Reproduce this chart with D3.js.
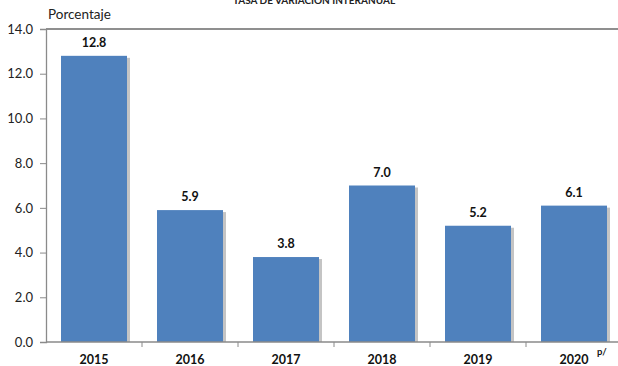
<!DOCTYPE html>
<html>
<head>
<meta charset="utf-8">
<script src="https://cdn.jsdelivr.net/npm/d3@7"></script>
<style>
html,body{margin:0;padding:0;background:#fff;}
svg{display:block;font-family:Lato,"Open Sans",sans-serif;}
</style>
</head>
<body>
<svg id="chart" width="618" height="366"></svg>
<script>
const categories = ["2015","2016","2017","2018","2019","2020"];
const values = [12.8, 5.9, 3.8, 7.0, 5.2, 6.1];
const yTicks = [0, 2, 4, 6, 8, 10, 12, 14];
const title = "TASA DE VARIACIÓN INTERANUAL";
const yLabel = "Porcentaje";
const lastSuffix = "p/";

(function () {
const svg = d3.select("#chart");
const pLeft = 46, pRight = 622, pTop = 29, pBottom = 342;

const x = d3.scaleBand().domain(categories).range([pLeft, pRight]).paddingInner(0.3125).paddingOuter(0.15625);
const y = d3.scaleLinear().domain([0, 14]).range([pBottom, pTop]);

// title
svg.append("text").attr("x", 314).attr("y", 4).attr("text-anchor", "middle")
  .attr("font-size", 10).attr("font-weight", "bold").attr("fill", "#222").text(title);

// y label
svg.append("text").attr("x", 48).attr("y", 19).attr("font-size", 13.5).attr("fill", "#222").text(yLabel);

// top border
svg.append("line").attr("x1", pLeft).attr("x2", 618).attr("y1", pTop).attr("y2", pTop)
  .attr("stroke", "#6a6a6a").attr("stroke-width", 1.6);

// bars shadow
svg.append("g").selectAll("rect").data(values).join("rect")
  .attr("x", (d, i) => x(categories[i]) + 2)
  .attr("y", d => y(d) + 2)
  .attr("width", x.bandwidth() + 1)
  .attr("height", d => pBottom - y(d) - 2)
  .attr("fill", "#c4c4c4");

// bars
svg.append("g").selectAll("rect").data(values).join("rect")
  .attr("x", (d, i) => x(categories[i]))
  .attr("y", d => y(d))
  .attr("width", x.bandwidth())
  .attr("height", d => pBottom - y(d))
  .attr("fill", "#4F81BD");

// value labels
svg.append("g").selectAll("text").data(values).join("text")
  .attr("x", (d, i) => x(categories[i]) + x.bandwidth() / 2)
  .attr("y", d => y(d) - 9)
  .attr("text-anchor", "middle")
  .attr("font-size", 12.5).attr("font-weight", "bold").attr("fill", "#111")
  .text(d => d.toFixed(1));

// y axis
const yAxis = svg.append("g").attr("transform", `translate(${pLeft},0)`)
  .call(d3.axisLeft(y).tickValues(yTicks).tickFormat(d3.format(".1f")).tickSize(6).tickPadding(7));
yAxis.select(".domain").attr("stroke", "#8a8a8a").attr("stroke-width", 1.3);
yAxis.selectAll(".tick line").attr("stroke", "#8a8a8a");
yAxis.selectAll(".tick text").attr("font-size", 13).attr("fill", "#222").attr("font-family", "Lato, sans-serif");

// x axis
const xAxis = svg.append("g").attr("transform", `translate(0,${pBottom})`)
  .call(d3.axisBottom(x).tickSize(0).tickPadding(13));
xAxis.select(".domain").remove();
svg.append("line").attr("x1", pLeft).attr("x2", 618).attr("y1", pBottom).attr("y2", pBottom)
  .attr("stroke", "#8a8a8a").attr("stroke-width", 1.3);
// category boundary ticks
const bounds = categories.map(c => x(c) - x.step() * x.paddingInner() / 2 + x.step());
svg.append("g").selectAll("line").data(bounds.filter(b => b < 618)).join("line")
  .attr("x1", d => d).attr("x2", d => d).attr("y1", pBottom).attr("y2", pBottom + 5)
  .attr("stroke", "#8a8a8a");
xAxis.selectAll(".tick text").attr("font-size", 12.5).attr("font-weight", "bold")
  .attr("fill", "#111").attr("font-family", "Lato, sans-serif").attr("dy", "0.71em");

// superscript p/
const lastCat = categories[categories.length - 1];
svg.append("text").attr("x", x(lastCat) + x.bandwidth() / 2 + 23).attr("y", 355)
  .attr("font-size", 9.5).attr("font-weight", "bold").attr("fill", "#111").text(lastSuffix);
})();
</script>
</body>
</html>
